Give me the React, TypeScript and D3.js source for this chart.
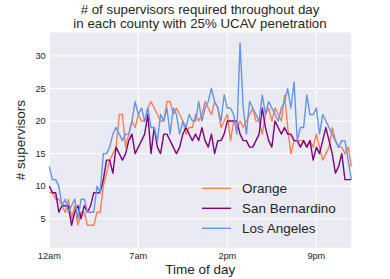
import React, { useRef, useEffect } from 'react';
import * as d3 from 'd3';

// 15-minute slots over the day, 96 per county
const ORANGE = [
  9, 9, 8, 8, 7, 6, 8, 5, 7, 4, 6, 6, 4, 4, 4, 6, 6,
  10, 12, 14, 15, 16, 21, 21, 16, 18, 20, 19, 21, 20, 20, 22,
  23, 22, 21, 20, 20, 23, 23, 21, 22, 21, 20, 18, 19, 19, 21, 20,
  21, 23, 22, 21, 23, 22, 19, 20, 21, 17, 20, 19, 20, 19, 20, 21,
  22, 20, 20, 18, 21, 22, 20, 22, 21, 20, 24, 19, 15, 17, 17, 17,
  17, 16, 17, 16, 18, 16, 14, 15, 16, 19, 17, 16, 16, 15, 16, 13,
];

const SAN_BERNARDINO = [
  10, 9, 9, 6, 7, 7, 7, 4, 6, 7, 5, 7, 6, 7, 9, 9, 9,
  11, 14, 14, 12, 16, 15, 14, 15, 17, 18, 15, 16, 17, 18, 21,
  15, 19, 16, 15, 18, 18, 17, 16, 15, 16, 18, 19, 18, 17, 18, 17,
  19, 17, 16, 18, 15, 17, 17, 18, 20, 20, 20, 20, 18, 17, 17, 16,
  16, 17, 18, 22, 19, 17, 16, 20, 19, 18, 19, 18, 18, 17, 17, 16,
  17, 16, 17, 14, 16, 15, 17, 19, 17, 15, 12, 13, 15, 11, 11, 11,
];

const LOS_ANGELES = [
  13, 11, 11, 10, 7, 8, 6, 7, 8, 5, 8, 8, 6, 6, 6, 10, 9,
  15, 15, 16, 18, 19, 18, 17, 18, 18, 20, 23, 21, 22, 20, 22,
  19, 19, 17, 21, 20, 22, 18, 22, 21, 18, 20, 19, 21, 20, 20, 23,
  20, 22, 23, 25, 23, 22, 20, 24, 22, 22, 21, 18, 32, 22, 18, 23,
  22, 21, 20, 24, 21, 23, 22, 21, 20, 22, 23, 25, 22, 26, 17, 19,
  19, 24, 21, 21, 22, 18, 21, 20, 19, 18, 17, 16, 17, 17, 14, 11,
];

const SERIES = [
  { label: 'Orange', values: ORANGE, color: 'coral' },
  { label: 'San Bernardino', values: SAN_BERNARDINO, color: 'purple' },
  { label: 'Los Angeles', values: LOS_ANGELES, color: 'cornflowerblue' },
];

const X_TICKS = [0, 28, 56, 84];
const X_TICK_LABELS = ['12am', '7am', '2pm', '9pm'];
const Y_TICKS = [5, 10, 15, 20, 25, 30];

const FONT = '"Liberation Sans", Arial, sans-serif';
const TEXT = '#262626';

export default function App() {
  const svgRef = useRef<SVGSVGElement>(null);

  useEffect(() => {
    if (!svgRef.current) return;
    d3.select(svgRef.current).selectAll('*').remove();

    const margin = { top: 32.5, right: 38.7, bottom: 31.3, left: 49.3 };
    const W = 390;
    const H = 279;
    const width = W - margin.left - margin.right;
    const height = H - margin.top - margin.bottom;

    const root = d3.select(svgRef.current);

    // Title
    const title = root
      .append('text')
      .attr('text-anchor', 'middle')
      .attr('fill', TEXT)
      .style('font-family', FONT)
      .style('font-size', '13.3px');
    title.append('tspan').attr('x', 200).attr('y', 14).text('# of supervisors required throughout day');
    title.append('tspan').attr('x', 200).attr('y', 28.3).text('in each county with 25% UCAV penetration');

    const svg = root.append('g').attr('transform', `translate(${margin.left}, ${margin.top})`);

    const x = d3.scaleLinear().domain([0, 95]).range([0, width]);
    const y = d3.scaleLinear().domain([0.55, 33.6]).range([height, 0]);

    svg.append('rect').attr('width', width).attr('height', height).attr('fill', '#EAEAF2');

    // Grid
    svg
      .selectAll('.xgrid')
      .data(X_TICKS)
      .enter()
      .append('line')
      .attr('x1', (d) => x(d))
      .attr('x2', (d) => x(d))
      .attr('y1', 0)
      .attr('y2', height)
      .attr('stroke', '#fff')
      .attr('stroke-width', 1);
    svg
      .selectAll('.ygrid')
      .data(Y_TICKS)
      .enter()
      .append('line')
      .attr('x1', 0)
      .attr('x2', width)
      .attr('y1', (d) => y(d))
      .attr('y2', (d) => y(d))
      .attr('stroke', '#fff')
      .attr('stroke-width', 1);

    // Lines
    const line = d3
      .line<number>()
      .x((_, i) => x(i))
      .y((d) => y(d));

    svg
      .selectAll('.series')
      .data(SERIES)
      .enter()
      .append('path')
      .attr('d', (d) => line(d.values))
      .attr('fill', 'none')
      .attr('stroke', (d) => d.color)
      .attr('stroke-width', 1.4)
      .attr('stroke-linejoin', 'round');

    // Axes labels
    svg
      .selectAll('.xtick')
      .data(X_TICKS)
      .enter()
      .append('text')
      .attr('x', (d) => x(d))
      .attr('y', height + 10.8)
      .attr('text-anchor', 'middle')
      .attr('fill', TEXT)
      .style('font-family', FONT)
      .style('font-size', '9.2px')
      .text((_, i) => X_TICK_LABELS[i]);

    svg
      .selectAll('.ytick')
      .data(Y_TICKS)
      .enter()
      .append('text')
      .attr('x', -3.6)
      .attr('y', (d) => y(d))
      .attr('dy', '0.35em')
      .attr('text-anchor', 'end')
      .attr('fill', TEXT)
      .style('font-family', FONT)
      .style('font-size', '9.2px')
      .text((d) => d);

    svg
      .append('text')
      .attr('x', width / 2)
      .attr('y', height + 26)
      .attr('text-anchor', 'middle')
      .attr('fill', TEXT)
      .style('font-family', FONT)
      .style('font-size', '13.5px')
      .text('Time of day');

    svg
      .append('text')
      .attr('transform', `translate(-24, ${height / 2}) rotate(-90)`)
      .attr('text-anchor', 'middle')
      .attr('fill', TEXT)
      .style('font-family', FONT)
      .style('font-size', '13.5px')
      .text('# supervisors');

    // Legend
    const legend = svg
      .selectAll('.legend')
      .data(SERIES)
      .enter()
      .append('g')
      .attr('transform', (_, i) => `translate(${202 - margin.left}, ${188.3 - margin.top + i * 20})`);
    legend
      .append('line')
      .attr('x1', 0)
      .attr('x2', 29)
      .attr('stroke', (d) => d.color)
      .attr('stroke-width', 1.4);
    legend
      .append('text')
      .attr('x', 40)
      .attr('dy', '0.35em')
      .attr('fill', TEXT)
      .style('font-family', FONT)
      .style('font-size', '13.5px')
      .text((d) => d.label);
  }, []);

  return (
    <svg
      ref={svgRef}
      width={390}
      height={279}
      style={{ position: 'absolute', left: 0, top: 0, background: '#fff' }}
    />
  );
}
